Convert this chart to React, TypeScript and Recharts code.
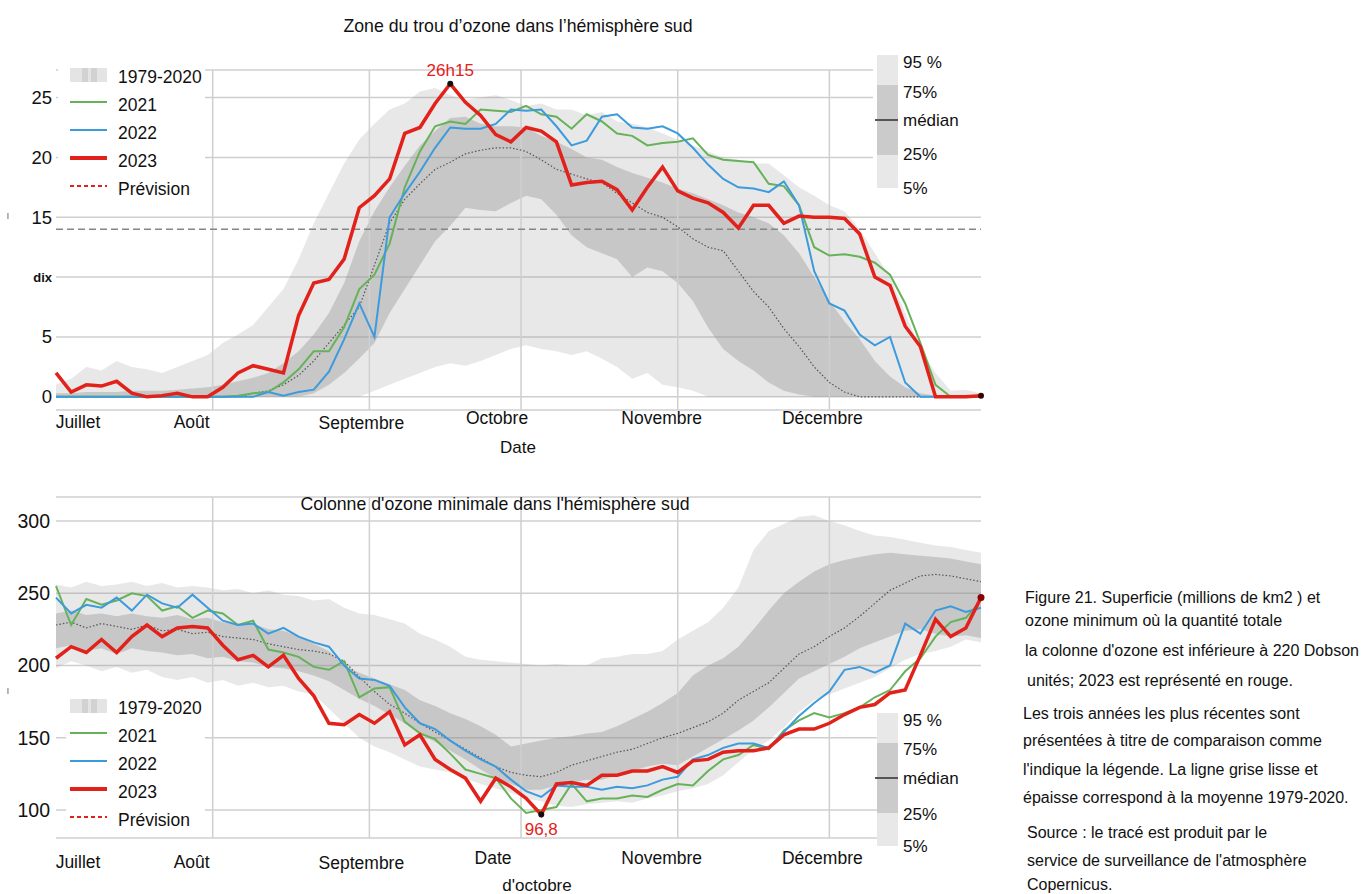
import React from "react";
import {
  ComposedChart,
  Area,
  Line,
  XAxis,
  YAxis,
  CartesianGrid,
  ReferenceLine,
  ReferenceDot,
} from "recharts";

const FONT = "'Liberation Sans', Arial, Helvetica, sans-serif";
const RED = "#e3211b";
const GREEN = "#66b259";
const BLUE = "#3b9bdc";

// day of the season, counted from 1 July
const DAYS = [
  0, 3, 6, 9, 12, 15, 18, 21, 24, 27, 30, 33, 36, 39, 42, 45, 48, 51, 54, 57, 60, 63, 66, 69, 72, 75, 78, 81, 84, 87,
  90, 93, 96, 99, 102, 105, 108, 111, 114, 117, 120, 123, 126, 129, 132, 135, 138, 141, 144, 147, 150, 153, 156, 159,
  162, 165, 168, 171, 174, 177, 180, 183,
];
const MONTH_TICKS = [0, 31, 62, 92, 123, 153];
const TOP_MONTH_LABELS = ["Juillet", "Août", "Septembre", "Octobre", "Novembre", "Décembre"];
const BOT_MONTH_LABELS = ["Juillet", "Août", "Septembre", "Date", "Novembre", "Décembre"];

// ozone hole area, millions of km2
const TOP_2023 = [
  2.0, 0.4, 1.0, 0.9, 1.3, 0.3, 0, 0.1, 0.3, 0,
  0, 0.8, 2.0, 2.6, 2.3, 2.0, 6.8, 9.5, 9.8, 11.5,
  15.8, 16.8, 18.2, 22.0, 22.5, 24.5, 26.15, 24.6, 23.5, 21.9,
  21.3, 22.5, 22.2, 21.3, 17.7, 17.9, 18.0, 17.3, 15.6, 17.5,
  19.2, 17.2, 16.6, 16.2, 15.4, 14.1, 16.0, 16.0, 14.5, 15.1,
  15.0, 15.0, 14.9, 13.6, 10.0, 9.3, 5.9, 4.2, 0, 0,
  0, 0.1,
];
const TOP_2021 = [
  0, 0, 0, 0, 0, 0, 0, 0, 0, 0,
  0, 0, 0.1, 0.3, 0.4, 1.2, 2.3, 3.8, 3.8, 5.8,
  9.0, 10.2, 12.8, 17.5, 20.5, 22.6, 23.0, 22.8, 24.0, 23.9,
  23.8, 24.3, 23.6, 23.4, 22.4, 23.6, 23.0, 22.0, 21.8, 21.0,
  21.2, 21.3, 21.6, 20.2, 19.8, 19.7, 19.6, 17.8, 17.6, 16.0,
  12.5, 11.8, 11.9, 11.7, 11.2, 10.2, 7.8, 4.5, 1.0, 0,
  0, 0,
];
const TOP_2022 = [
  0, 0, 0, 0, 0, 0, 0, 0, 0, 0,
  0, 0, 0, 0, 0.4, 0.1, 0.4, 0.6, 2.1, 4.8,
  7.8, 5.0, 15.0, 17.0, 18.8, 20.8, 22.5, 22.4, 22.4, 22.8,
  24.0, 23.9, 24.0, 22.6, 21.0, 21.4, 23.4, 23.6, 22.5, 22.4,
  22.6, 22.0, 20.8, 19.4, 18.2, 17.5, 17.4, 17.1, 18.0, 16.0,
  10.5, 7.8, 7.2, 5.2, 4.3, 5.0, 1.2, 0, 0, 0,
  0, 0,
];
const TOP_P95 = [
  1.0, 1.5, 2.5, 2.2, 3.0, 2.5, 2.3, 2.0, 2.5, 3.0,
  3.5, 4.5, 5.2, 6.0, 7.5, 9.0, 11.5, 14.5, 17.0, 19.5,
  21.5, 22.8, 24.0, 24.5, 25.5, 25.8, 25.2, 24.8, 25.0, 25.2,
  24.8, 24.3, 24.5, 24.0, 24.0, 23.5, 23.8, 23.0, 22.8, 22.5,
  22.0, 21.5, 21.0, 20.5, 20.0, 19.8, 19.5, 19.5, 18.5, 17.5,
  16.8, 16.0, 15.5, 14.0, 12.0, 10.0, 7.0, 4.0, 2.0, 0.5,
  0.6, 0.3,
];
const TOP_P75 = [
  0.3, 0.3, 0.4, 0.4, 0.4, 0.5, 0.5, 0.5, 0.6, 0.7,
  0.8, 1.0, 1.3, 1.6, 2.0, 2.8, 3.8, 5.2, 7.0, 9.5,
  13.0, 15.5, 17.5, 19.3, 21.0, 22.2, 23.3, 23.4, 22.8, 22.6,
  22.6, 22.5, 21.8, 21.3, 20.7, 20.0, 19.8, 19.2, 18.7, 18.3,
  17.9, 17.4, 17.0, 16.5, 16.0, 15.4, 15.0, 14.5, 13.5, 12.0,
  10.0, 8.0, 6.3, 4.8, 3.0, 1.7, 0.8, 0.3, 0.1, 0,
  0, 0,
];
const TOP_MEDIAN = [
  0, 0, 0, 0, 0, 0, 0, 0, 0, 0,
  0, 0, 0, 0.3, 0.5, 1.0, 1.8, 3.0, 4.5, 6.0,
  7.5, 11.0, 14.5, 16.5, 17.8, 19.0, 19.6, 20.3, 20.6, 20.8,
  20.8, 20.5, 19.8, 19.0, 18.6, 18.2, 17.9, 17.0, 16.2, 15.4,
  15.0, 14.2, 13.2, 12.5, 12.2, 10.5, 8.8, 7.5, 5.7, 4.2,
  2.5, 1.2, 0.4, 0, 0, 0, 0, 0, 0, 0,
  0, 0,
];
const TOP_P25 = [
  0, 0, 0, 0, 0, 0, 0, 0, 0, 0,
  0, 0, 0, 0, 0, 0, 0, 0.3, 1.0, 2.0,
  3.2, 4.5, 7.0, 9.0, 11.0, 13.0, 14.3, 15.8, 15.6, 15.5,
  16.2, 16.8, 16.5, 15.2, 13.5, 12.5, 12.0, 11.5, 10.0, 10.8,
  10.5, 9.5, 8.0, 5.8, 4.0, 3.0, 2.2, 1.2, 0.5, 0.2,
  0, 0, 0, 0, 0, 0, 0, 0, 0, 0,
  0, 0,
];
const TOP_P5 = [
  0, 0, 0, 0, 0, 0, 0, 0, 0, 0,
  0, 0, 0, 0, 0, 0, 0, 0, 0, 0,
  0, 0.5, 1.0, 1.5, 2.0, 2.5, 2.8, 2.6, 3.0, 3.5,
  4.0, 4.3, 4.0, 3.8, 3.5, 3.8, 3.2, 2.5, 1.5, 2.0,
  1.0, 0.8, 0.5, 0, 0, 0, 0, 0, 0, 0,
  0, 0, 0, 0, 0, 0, 0, 0, 0, 0,
  0, 0,
];
const TOP_THRESHOLD = 14;
const TOP_Y_TICKS = [0, 5, 10, 15, 20, 25];
const TOP_Y_LABELS = ["0", "5", "dix", "15", "20", "25"];

// minimum ozone column, Dobson units
const BOT_2023 = [
  205, 213, 209, 218, 209, 220, 228, 220, 226, 227,
  226, 214, 204, 207, 199, 207, 191, 179, 160, 159,
  166, 160, 168, 145, 152, 135, 128, 122, 106, 122,
  116, 108, 96.8, 118, 119, 117, 124, 124, 127, 127,
  130, 126, 134, 135, 140, 141, 141, 143, 152, 156,
  156, 160, 166, 171, 173, 181, 183, 207, 232, 220,
  226, 247,
];
const BOT_2021 = [
  255, 228, 246, 242, 245, 250, 248, 238, 241, 233,
  238, 236, 228, 231, 211, 209, 206, 199, 197, 203,
  178, 184, 185, 161, 153, 149, 139, 128, 125, 122,
  108, 98, 100, 102, 118, 106, 108, 108, 110, 109,
  114, 118, 117, 127, 135, 138, 145, 142, 155, 162,
  167, 164, 167, 171, 178, 183, 196, 205, 220, 230,
  233, 245,
];
const BOT_2022 = [
  247, 236, 242, 240, 247, 238, 249, 243, 240, 249,
  240, 231, 228, 229, 222, 226, 220, 216, 213, 200,
  191, 190, 186, 171, 160, 156, 148, 141, 135, 130,
  121, 113, 109, 117, 116, 116, 114, 116, 115, 117,
  121, 123, 135, 138, 143, 146, 146, 143, 154, 165,
  174, 182, 197, 199, 195, 200, 229, 222, 238, 241,
  237, 240,
];
const BOT_P95 = [
  256, 254, 258, 255, 256, 258, 255, 257, 254, 255,
  254, 252, 253, 250, 252, 249, 248, 245, 246, 240,
  236, 235, 232, 229, 222, 218, 213, 206, 204, 203,
  202, 201, 200, 201, 200, 200, 205, 206, 208, 208,
  210, 218, 224, 230, 240, 254, 280, 293, 298, 303,
  304, 300, 297, 293, 290, 289, 287, 285, 283, 282,
  280, 278,
];
const BOT_P75 = [
  236, 238, 235, 236, 234, 236, 234, 233, 235, 232,
  233, 230, 228, 229, 225, 224, 220, 215, 210, 200,
  195, 191, 187, 183, 176, 172, 167, 163, 158, 152,
  144, 146, 148, 150, 151, 153, 154, 158, 163, 168,
  174, 181, 193, 200, 205, 213, 225, 238, 250, 258,
  265, 270, 273, 275, 277, 278, 277, 276, 275, 274,
  272, 270,
];
const BOT_MEDIAN = [
  228, 230, 226, 229, 227, 225, 228, 224, 225, 222,
  223, 220, 219, 218, 215, 213, 211, 210, 208, 203,
  192, 182, 173, 167, 160, 154, 148, 142, 136, 130,
  126, 124, 123, 126, 131, 134, 137, 140, 142, 146,
  150, 153, 157, 161, 167, 176, 182, 188, 198, 208,
  213, 220, 226, 234, 243, 252, 257, 262, 263, 262,
  260, 258,
];
const BOT_P25 = [
  212, 214, 210, 212, 208, 212, 210, 209, 207, 208,
  205, 206, 203, 202, 199, 198, 196, 193, 189, 183,
  177, 172, 166, 160, 153, 147, 141, 135, 128, 122,
  118, 114, 114, 117, 119, 121, 121, 124, 127, 130,
  132, 131, 137, 143, 149, 155, 162, 171, 181, 191,
  196, 201, 206, 212, 216, 220, 224, 225, 222, 220,
  221, 219,
];
const BOT_P5 = [
  198, 203, 200, 196, 199, 195, 197, 192, 190, 192,
  188, 190, 186, 188, 185, 186, 182, 180, 170, 160,
  150, 144, 140, 135, 130, 128, 126, 122, 118, 115,
  112, 108, 106, 103, 102, 104, 105, 106, 105, 108,
  110, 113, 115, 118, 124, 133, 142, 148, 157, 168,
  176, 180, 184, 188, 192, 198, 204, 208, 210, 213,
  218, 216,
];
const BOT_Y_TICKS = [100, 150, 200, 250, 300];

const CAPTION = [
  "Figure 21. Superficie (millions de km2 ) et",
  "ozone minimum où la quantité totale",
  "la colonne d'ozone est inférieure à 220 Dobson",
  "unités; 2023 est représenté en rouge.",
  "Les trois années les plus récentes sont",
  "présentées à titre de comparaison comme",
  "l'indique la légende. La ligne grise lisse et",
  "épaisse correspond à la moyenne 1979-2020.",
  "Source : le tracé est produit par le",
  "service de surveillance de l'atmosphère",
  "Copernicus.",
];
const CAPTION_Y = [597, 620, 650, 680, 713, 740, 769, 797, 832, 860, 884];
const CAPTION_X = [1025, 1025, 1025, 1027, 1023, 1023, 1023, 1023, 1027, 1027, 1027];

const topData = DAYS.map((day, i) => ({
  day,
  outer: [TOP_P5[i], TOP_P95[i]],
  inner: [TOP_P25[i], TOP_P75[i]],
  median: TOP_MEDIAN[i],
  y2021: TOP_2021[i],
  y2022: TOP_2022[i],
  y2023: TOP_2023[i],
}));
const botData = DAYS.map((day, i) => ({
  day,
  outer: [BOT_P5[i], BOT_P95[i]],
  inner: [BOT_P25[i], BOT_P75[i]],
  median: BOT_MEDIAN[i],
  y2021: BOT_2021[i],
  y2022: BOT_2022[i],
  y2023: BOT_2023[i],
}));

const last = DAYS.length - 1;
const peakIdx = TOP_2023.indexOf(Math.max(...TOP_2023));
const lowIdx = BOT_2023.indexOf(Math.min(...BOT_2023));

function MonthTick(props: any) {
  const { x, y, payload, labels, shifts, lifts } = props;
  const i = MONTH_TICKS.indexOf(payload.value);
  if (i < 0) return null;
  return (
    <text x={x + shifts[i]} y={y + lifts[i]} textAnchor="middle" dominantBaseline="central"
      fontSize={17.5} fill="#111" fontFamily={FONT}>
      {labels[i]}
    </text>
  );
}

function ValueTick(props: any) {
  const { x, y, payload, labels, ticks, size } = props;
  const i = ticks.indexOf(payload.value);
  const text = labels ? labels[i] : String(payload.value);
  const small = text === "dix";
  return (
    <text x={x} y={y} textAnchor="end" dominantBaseline="central" fontSize={small ? 13 : size}
      fontWeight={small ? "bold" : "normal"} fill="#111" fontFamily={FONT}>
      {text}
    </text>
  );
}

function bands() {
  return [
    <Area key="o" dataKey="outer" type="linear" stroke="none" fill="#8c8c8c" fillOpacity={0.2} isAnimationActive={false} />,
    <Area key="i" dataKey="inner" type="linear" stroke="none" fill="#8c8c8c" fillOpacity={0.36} isAnimationActive={false} />,
  ];
}

function seriesLines() {
  return [
    <Line key="m" dataKey="median" type="linear" stroke="#555" strokeWidth={1.2} strokeDasharray="1.5 2" dot={false} isAnimationActive={false} />,
    <Line key="a" dataKey="y2021" type="linear" stroke={GREEN} strokeWidth={2} dot={false} isAnimationActive={false} />,
    <Line key="b" dataKey="y2022" type="linear" stroke={BLUE} strokeWidth={2} dot={false} isAnimationActive={false} />,
    <Line key="c" dataKey="y2023" type="linear" stroke={RED} strokeWidth={3.5} dot={false} isAnimationActive={false} />,
  ];
}

function monthLines() {
  return MONTH_TICKS.slice(1).map((m) => (
    <ReferenceLine key={m} x={m} stroke="#cfcfcf" strokeWidth={1.5} />
  ));
}

function YearLegend({ y0, bgX }: { y0: number; bgX: number }) {
  const step = 28;
  const rows = ["1979-2020", "2021", "2022", "2023", "Prévision"];
  return (
    <g fontFamily={FONT}>
      <rect x={bgX} y={y0 - 17} width={205 - bgX} height={step * 4 + 32} fill="#fff" />
      {rows.map((r, i) => {
        const cy = y0 + i * step;
        return (
          <g key={r}>
            {i === 0 && (
              <g>
                <rect x={70} y={cy - 9} width={37} height={14} fill="#e4e4e4" />
                <rect x={82} y={cy - 9} width={15} height={14} fill="#d2d2d2" />
                <rect x={88} y={cy - 9} width={3} height={14} fill="#e4e4e4" />
              </g>
            )}
            {i === 1 && <line x1={70} x2={107} y1={cy - 3} y2={cy - 3} stroke={GREEN} strokeWidth={2} />}
            {i === 2 && <line x1={70} x2={107} y1={cy - 3} y2={cy - 3} stroke={BLUE} strokeWidth={2} />}
            {i === 3 && <line x1={70} x2={107} y1={cy - 3} y2={cy - 3} stroke={RED} strokeWidth={4} />}
            {i === 4 && <line x1={70} x2={107} y1={cy - 3} y2={cy - 3} stroke={RED} strokeWidth={2} strokeDasharray="4 3" />}
            <text x={118} y={cy} dominantBaseline="central" fontSize={17.5} fill="#111">{r}</text>
          </g>
        );
      })}
    </g>
  );
}

function PercentileLegend({ top, bgX, labelsY }: { top: number; bgX: number; labelsY: number[] }) {
  const labels = ["95 %", "75%", "médian", "25%", "5%"];
  return (
    <g fontFamily={FONT}>
      <rect x={bgX} y={top - 8} width={987 - bgX} height={150} fill="#fff" />
      <rect x={877} y={top} width={21} height={30} fill="#e8e8e8" />
      <rect x={877} y={top + 30} width={21} height={70} fill="#cbcbcb" />
      <rect x={877} y={top + 100} width={21} height={33} fill="#e8e8e8" />
      <line x1={875} x2={898} y1={labelsY[2]} y2={labelsY[2]} stroke="#555" strokeWidth={2} />
      {labels.map((l, i) => (
        <text key={l} x={903} y={labelsY[i]} dominantBaseline="central" fontSize={17} fill="#111">{l}</text>
      ))}
    </g>
  );
}

export default function App() {
  return (
    <div style={{ position: "absolute", left: 0, top: 0, width: 1367, height: 894, background: "#fff" }}>
      <div style={{ position: "absolute", left: 0, top: 0 }}>
        <ComposedChart width={1000} height={470} data={topData} margin={{ top: 70, right: 19, left: 0, bottom: 0 }}>
          <CartesianGrid vertical={false} stroke="#cfcfcf" strokeWidth={1.5} />
          <XAxis dataKey="day" type="number" domain={[0, 183]} ticks={MONTH_TICKS} interval={0}
            axisLine={false} tickLine={false} tickSize={0} tickMargin={0} height={60}
            tick={(p: any) => <MonthTick {...p} labels={TOP_MONTH_LABELS} shifts={[22, -21, -8, -24, -16, -7]} lifts={[12, 12, 13, 8, 8, 8]} />} />
          <YAxis type="number" domain={[-1.1, 27.3]} ticks={TOP_Y_TICKS} interval={0} allowDataOverflow
            axisLine={false} tickLine={false} tickSize={0} tickMargin={4} width={56}
            tick={(p: any) => <ValueTick {...p} labels={TOP_Y_LABELS} ticks={TOP_Y_TICKS} size={18.5} />} />
          {bands()}
          {monthLines()}
          <ReferenceLine y={TOP_THRESHOLD} stroke="#858585" strokeWidth={1.5} strokeDasharray="7 4" />
          {seriesLines()}
          <ReferenceDot x={DAYS[peakIdx]} y={TOP_2023[peakIdx]} r={3} fill="#111" stroke="none"
            label={{ value: "26h15", position: "top", fill: RED, fontSize: 17, fontFamily: FONT }} />
          <ReferenceDot x={DAYS[last]} y={TOP_2023[last]} r={3} fill="#3a0000" stroke="none" />
        </ComposedChart>
      </div>
      <div style={{ position: "absolute", left: 0, top: 470 }}>
        <ComposedChart width={1000} height={424} data={botData} margin={{ top: 27, right: 19, left: 0, bottom: 0 }}>
          <CartesianGrid vertical={false} stroke="#cfcfcf" strokeWidth={1.5} />
          <XAxis dataKey="day" type="number" domain={[0, 183]} ticks={MONTH_TICKS} interval={0}
            axisLine={false} tickLine={false} tickSize={0} tickMargin={0} height={56}
            tick={(p: any) => <MonthTick {...p} labels={BOT_MONTH_LABELS} shifts={[22, -21, -8, -28, -16, -7]} lifts={[24, 24, 25, 20, 20, 20]} />} />
          <YAxis type="number" domain={[80.6, 316.6]} ticks={BOT_Y_TICKS} interval={0} allowDataOverflow
            axisLine={false} tickLine={false} tickSize={0} tickMargin={6} width={56}
            tick={(p: any) => <ValueTick {...p} ticks={BOT_Y_TICKS} size={19.5} />} />
          {bands()}
          {monthLines()}
          {seriesLines()}
          <ReferenceDot x={DAYS[lowIdx]} y={BOT_2023[lowIdx]} r={3} fill="#111" stroke="none"
            label={{ value: "96,8", position: "bottom", fill: RED, fontSize: 17, fontFamily: FONT }} />
          <ReferenceDot x={DAYS[last]} y={BOT_2023[last]} r={3.5} fill="#8a0000" stroke="none" />
        </ComposedChart>
      </div>
      <svg width={1367} height={894} style={{ position: "absolute", left: 0, top: 0, pointerEvents: "none" }}>
        <g fontFamily={FONT} fill="#111">
          <text x={518} y={26} textAnchor="middle" dominantBaseline="central" fontSize={17.7}>
            Zone du trou d’ozone dans l’hémisphère sud
          </text>
          <text x={495} y={504} textAnchor="middle" dominantBaseline="central" fontSize={17.7}>
            Colonne d'ozone minimale dans l'hémisphère sud
          </text>
          <text x={518} y={447} textAnchor="middle" dominantBaseline="central" fontSize={17}>Date</text>
          <text x={537} y={885} textAnchor="middle" dominantBaseline="central" fontSize={17}>d'octobre</text>
          <text x={8} y={215} textAnchor="middle" dominantBaseline="central" fontSize={10} fill="#666">ı</text>
          <text x={8} y={690} textAnchor="middle" dominantBaseline="central" fontSize={10} fill="#666">ı</text>
          {CAPTION.map((c, i) => (
            <text key={i} x={CAPTION_X[i]} y={CAPTION_Y[i]} dominantBaseline="central" fontSize={16}>{c}</text>
          ))}
        </g>
        <YearLegend y0={77} bgX={58} />
        <YearLegend y0={708} bgX={66} />
        <PercentileLegend top={55} bgX={873} labelsY={[62, 92, 120, 154, 188]} />
        <PercentileLegend top={713} bgX={898} labelsY={[720, 749, 778, 814, 846]} />
      </svg>
    </div>
  );
}
